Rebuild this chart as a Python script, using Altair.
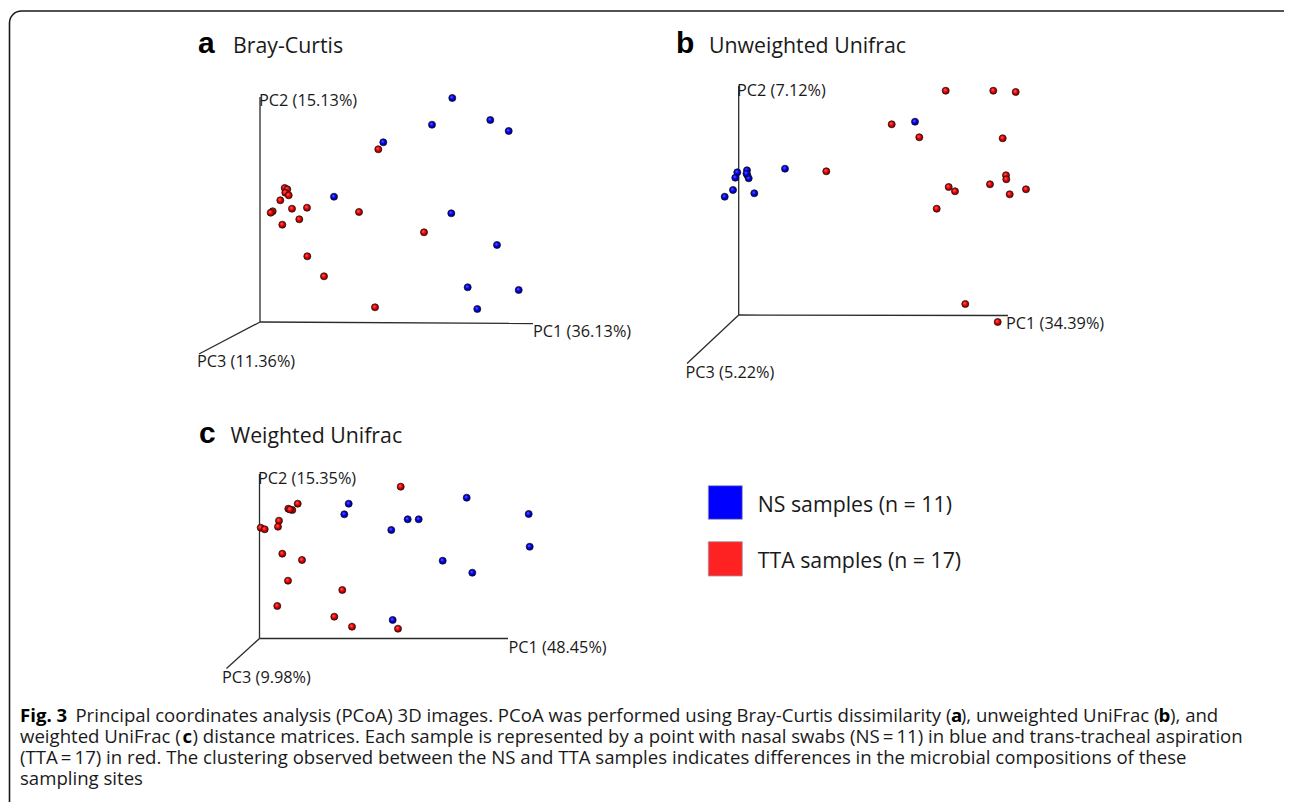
import altair as alt
import pandas as pd

# ---------------- data (projected positions) ----------------
# Panel a: Bray-Curtis
a_ns_x = [452.3, 432.0, 490.3, 508.7, 383.3, 334.0, 451.3, 497.0, 467.7, 518.7, 477.3]
a_ns_y = [98.0, 124.7, 120.0, 131.0, 142.3, 196.7, 213.3, 245.0, 287.3, 290.0, 309.0]
a_tta_x = [378.3, 284.7, 287.3, 285.3, 288.7, 280.3, 292.0, 307.0, 272.7, 270.7, 359.0,
           299.3, 282.3, 424.0, 307.3, 324.0, 375.0]
a_tta_y = [149.3, 188.0, 189.3, 192.7, 195.3, 200.3, 208.7, 207.7, 211.3, 212.7, 212.0,
           219.3, 224.7, 232.3, 256.3, 276.3, 307.3]

# Panel b: Unweighted UniFrac
b_ns_x = [915.0, 747.0, 737.3, 747.3, 735.3, 748.7, 746.5, 785.0, 733.0, 754.3, 724.7]
b_ns_y = [121.7, 170.3, 172.3, 175.0, 177.7, 178.3, 173.5, 168.7, 190.0, 193.3, 196.7]
b_tta_x = [945.7, 993.3, 1015.7, 891.7, 919.3, 1002.7, 826.3, 1006.0, 1006.3, 990.0, 948.7,
           955.0, 1026.0, 1009.7, 936.7, 965.3, 997.7]
b_tta_y = [90.7, 90.7, 92.0, 124.3, 137.3, 138.3, 171.3, 175.3, 179.3, 184.3, 187.0,
           191.3, 189.3, 194.3, 208.7, 304.0, 322.0]

# Panel c: Weighted UniFrac
c_ns_x = [348.7, 344.3, 407.7, 418.7, 391.3, 466.7, 528.7, 529.7, 442.7, 472.3, 392.7]
c_ns_y = [503.7, 514.3, 519.3, 519.3, 530.0, 497.7, 514.0, 546.7, 560.7, 572.7, 620.0]
c_tta_x = [400.7, 297.7, 288.3, 292.3, 290.0, 279.0, 278.0, 260.7, 264.7, 282.3, 302.0,
           288.0, 277.3, 342.3, 334.3, 352.0, 398.0]
c_tta_y = [486.7, 503.7, 508.7, 510.0, 509.5, 520.7, 526.7, 527.7, 529.3, 553.7, 560.0,
           580.7, 606.0, 590.0, 616.7, 626.7, 628.7]

# 3D axis segments (origin -> axis end) per panel
axis_x = [260.0, 260.0, 260.0, 738.7, 738.7, 738.7, 259.5, 259.5, 259.5]
axis_y = [322.0, 322.0, 322.0, 315.0, 315.0, 315.0, 638.5, 638.5, 638.5]
axis_x2 = [260.0, 533.0, 199.0, 738.7, 1008.0, 687.0, 259.5, 508.0, 226.5]
axis_y2 = [97.0, 323.5, 354.0, 86.0, 315.5, 363.5, 474.0, 638.5, 668.5]

# axis labels
axlab_text = ["PC2 (15.13%)", "PC1 (36.13%)", "PC3 (11.36%)",
              "PC2 (7.12%)", "PC1 (34.39%)", "PC3 (5.22%)",
              "PC2 (15.35%)", "PC1 (48.45%)", "PC3 (9.98%)"]
axlab_x = [259.0, 533.0, 197.0, 737.0, 1006.0, 685.5, 258.0, 508.5, 222.0]
axlab_y = [106.0, 337.0, 367.0, 96.0, 329.0, 378.0, 484.0, 653.0, 683.0]

# panel letters and titles
letter_text = ["a", "b", "c"]
letter_x = [198.0, 676.0, 199.0]
letter_y = [52.5, 53.3, 442.7]
title_text = ["Bray-Curtis", "Unweighted Unifrac", "Weighted Unifrac"]
title_x = [233.0, 709.0, 230.5]
title_y = [52.5, 53.3, 442.7]

# legend
legend_labels = ["NS samples (n = 11)", "TTA samples (n = 17)"]
legend_colors = ["#0000ff", "#ff2222"]
legend_y = [485.7, 541.7]
legend_y2 = [519.3, 576.0]
legend_text_y = [511.7, 568.3]

# caption segments: text, anchor x, baseline y, bold, alignment
cap_text = ["Fig. 3",
            "Principal coordinates analysis (PCoA) 3D images. PCoA was performed using Bray-Curtis dissimilarity (",
            "a", "), unweighted UniFrac (", "b", "), and",
            "weighted UniFrac (", "c",
            ") distance matrices. Each sample is represented by a point with nasal swabs (NS\u2009=\u200911) in blue and trans-tracheal aspiration",
            "(TTA\u2009=\u200917) in red. The clustering observed between the NS and TTA samples indicates differences in the microbial compositions of these",
            "sampling sites"]
cap_x = [20.0, 951.5, 956.5, 1159.5, 1164.5, 1170.0, 20.0, 182.5, 192.5, 20.0, 20.0]
cap_y = [722.0, 722.0, 722.0, 722.0, 722.0, 722.0, 743.0, 743.0, 743.0, 764.0, 785.0]
cap_bold = [True, False, True, False, True, False, False, True, False, False, False]
cap_align = ["left", "right", "center", "right", "center", "left", "left", "left", "left", "left", "left"]

# ---------------- build ----------------
W, H = 1276, 794
xs = alt.Scale(domain=[8, 8 + W], nice=False, zero=False)
ys = alt.Scale(domain=[8, 8 + H], nice=False, zero=False, reverse=True)


def X(f="x"):
    return alt.X(f"{f}:Q", scale=xs, axis=None)


def Y(f="y"):
    return alt.Y(f"{f}:Q", scale=ys, axis=None)


rows = []
for xx, yy, grp in [(a_ns_x, a_ns_y, "NS"), (a_tta_x, a_tta_y, "TTA"),
                    (b_ns_x, b_ns_y, "NS"), (b_tta_x, b_tta_y, "TTA"),
                    (c_ns_x, c_ns_y, "NS"), (c_tta_x, c_tta_y, "TTA")]:
    for px, py in zip(xx, yy):
        rows.append({"x": px, "y": py, "group": grp})
pts = pd.DataFrame(rows)

border = alt.Chart(pd.DataFrame({"x": [9.5], "x2": [1296.0], "y": [11.0], "y2": [840.0]})).mark_rect(
    fill=None, fillOpacity=0, stroke="#1a1a1a", strokeWidth=1.6, cornerRadius=12, clip=False
).encode(x=X(), x2="x2:Q", y=Y(), y2="y2:Q")

axes = alt.Chart(pd.DataFrame({"x": axis_x, "y": axis_y, "x2": axis_x2, "y2": axis_y2})).mark_rule(
    color="#2b2b2b", strokeWidth=1.3
).encode(x=X(), y=Y(), x2="x2:Q", y2="y2:Q")

blue_grad = alt.RadialGradient(gradient="radial", x1=0.38, y1=0.35, r1=0.0, x2=0.5, y2=0.5, r2=0.6,
                               stops=[alt.GradientStop(offset=0, color="#6b6bff"),
                                      alt.GradientStop(offset=0.45, color="#0000f5"),
                                      alt.GradientStop(offset=1, color="#00004a")])
red_grad = alt.RadialGradient(gradient="radial", x1=0.38, y1=0.35, r1=0.0, x2=0.5, y2=0.5, r2=0.6,
                              stops=[alt.GradientStop(offset=0, color="#ff7070"),
                                     alt.GradientStop(offset=0.45, color="#f00000"),
                                     alt.GradientStop(offset=1, color="#4a0000")])

ns_pts = alt.Chart(pts).transform_filter(alt.datum.group == "NS").mark_circle(
    size=50, opacity=1, color=blue_grad, stroke="#111111", strokeWidth=0.7
).encode(x=X(), y=Y())
tta_pts = alt.Chart(pts).transform_filter(alt.datum.group == "TTA").mark_circle(
    size=50, opacity=1, color=red_grad, stroke="#111111", strokeWidth=0.7
).encode(x=X(), y=Y())

axlabs = alt.Chart(pd.DataFrame({"x": axlab_x, "y": axlab_y, "t": axlab_text})).mark_text(
    align="left", baseline="alphabetic", font="Open Sans", fontSize=16.3, color="#1a1a1a"
).encode(x=X(), y=Y(), text="t:N")

letters = alt.Chart(pd.DataFrame({"x": letter_x, "y": letter_y, "t": letter_text})).mark_text(
    align="left", baseline="alphabetic", font="Liberation Sans", fontWeight="bold", fontSize=30, color="#000000"
).encode(x=X(), y=Y(), text="t:N")

titles = alt.Chart(pd.DataFrame({"x": title_x, "y": title_y, "t": title_text})).mark_text(
    align="left", baseline="alphabetic", font="Open Sans", fontSize=21.3, color="#1a1a1a"
).encode(x=X(), y=Y(), text="t:N")

leg_df = pd.DataFrame({"x": [708.3, 708.3], "x2": [742.3, 742.3], "y": legend_y, "y2": legend_y2,
                       "lab": legend_labels, "c": legend_colors, "ty": legend_text_y, "tx": [757.7, 757.7]})
leg_sq = alt.Chart(leg_df).mark_rect(stroke="#9a9ab0", strokeWidth=0.8).encode(
    x=X(), x2="x2:Q", y=Y(), y2="y2:Q", color=alt.Color("c:N", scale=None))
leg_tx = alt.Chart(leg_df).mark_text(
    align="left", baseline="alphabetic", font="Open Sans", fontSize=21.3, color="#1a1a1a"
).encode(x=X("tx"), y=Y("ty"), text="lab:N")

cap_df = pd.DataFrame({"x": cap_x, "y": cap_y, "t": cap_text, "b": cap_bold, "al": cap_align})
cap_layers = []
for al in ["left", "right", "center"]:
    for bold in [False, True]:
        sub = cap_df[(cap_df["al"] == al) & (cap_df["b"] == bold)]
        if len(sub) == 0:
            continue
        cap_layers.append(alt.Chart(sub).mark_text(
            align=al, baseline="alphabetic", font="Open Sans", fontSize=18.6,
            fontWeight="bold" if bold else "normal", color="#000000" if bold else "#1a1a1a"
        ).encode(x=X(), y=Y(), text="t:N"))

chart = alt.layer(border, axes, ns_pts, tta_pts, axlabs, letters, titles, leg_sq, leg_tx,
                  *cap_layers).properties(
    width=W, height=H, padding=0, autosize=alt.AutoSizeParams(type="none"), background="white"
).configure_view(stroke=None)

chart.save("out.html", embed_options={"renderer": "svg", "actions": False})
